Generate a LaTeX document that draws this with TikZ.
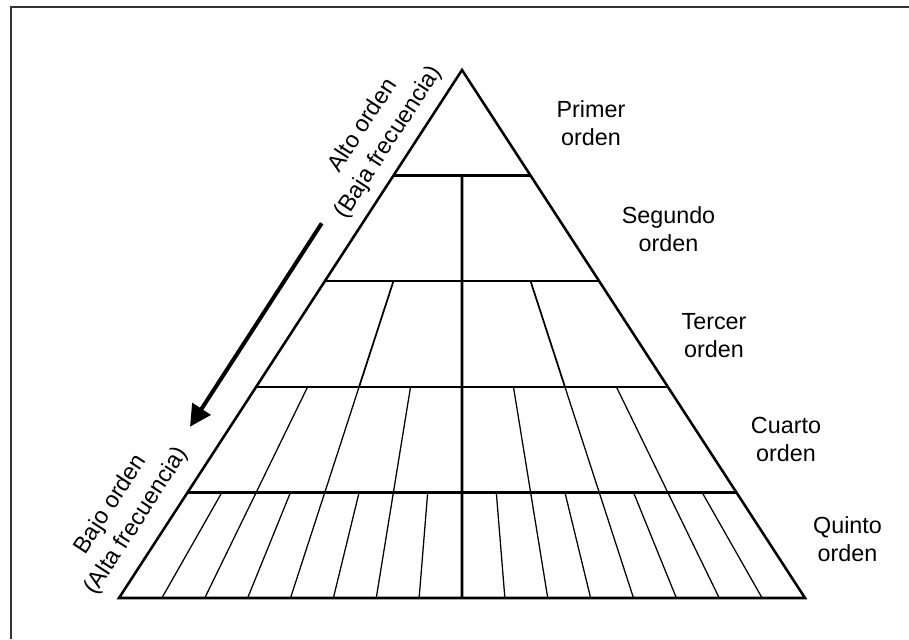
\documentclass[tikz,border=0pt]{standalone}
\usepackage{fontspec}
\setmainfont{Liberation Sans}
\usetikzlibrary{calc,arrows.meta}
\tikzset{
  outline/.style={line width=1.9pt, line join=miter, black},
  divmid/.style={line width=1.3pt, black},
  divthin/.style={line width=0.95pt, black},
  lbl/.style={align=center, inner sep=0pt, font=\fontsize{17.5}{21}\selectfont},
  rlbl/.style={align=center, inner sep=0pt, font=\fontsize{17.5}{23}\selectfont, rotate=57},
  frameline/.style={line width=1pt, black!80}
}
\begin{document}
\begin{tikzpicture}[x=0.75pt, y=-0.75pt]
\useasboundingbox (0,0) rectangle (909,639);
% frame
\coordinate (f1) at (11,639);
\coordinate (f2) at (11,7);
\coordinate (f3) at (909,7);
\draw[frameline] (f1) -- (f2) -- (f3);
% pyramid
\coordinate (A) at (462,70);
\coordinate (BL) at (119,598);
\coordinate (BR) at (805,598);
\coordinate (M) at (462,598);
\draw[outline] (A) -- (BL) -- (BR) -- cycle;
\foreach \f in {0.2,0.4,0.6,0.8}
  \draw[outline] ($(A)!\f!(BL)$) -- ($(A)!\f!(BR)$);
\draw[outline] ($(A)!0.2!(M)$) -- (M);
% third tier
\foreach \j in {1,3} {
  \coordinate (P) at ($(BL)!\j/4!(BR)$);
  \draw[divmid] ($(A)!0.4!(P)$) -- ($(A)!0.6!(P)$);
}
% fourth tier
\foreach \j in {1,2,3,5,6,7} {
  \coordinate (P) at ($(BL)!\j/8!(BR)$);
  \draw[divthin] ($(A)!0.6!(P)$) -- ($(A)!0.8!(P)$);
}
% fifth tier
\foreach \j in {1,...,7,9,10,...,15} {
  \coordinate (P) at ($(BL)!\j/16!(BR)$);
  \draw[divthin] ($(A)!0.8!(P)$) -- (P);
}
% labels right
\node[lbl] (l1) at (591,122.7) {Primer\\orden};
\node[lbl] (l2) at (668.5,229.6) {Segundo\\orden};
\node[lbl] (l3) at (714,335.6) {Tercer\\orden};
\node[lbl] (l4) at (786,439.6) {Cuarto\\orden};
\node[lbl] (l5) at (847.5,539.3) {Quinto\\orden};
% rotated labels
\node[rlbl] (hi) at (376,134) {Alto orden\\(Baja frecuencia)};
\node[rlbl] (lo) at (124,513) {Bajo orden\\(Alta frecuencia)};
% arrow
\coordinate (arS) at (321.7,223.3);
\coordinate (arE) at (190,426.7);
\draw[line width=3pt, -{Triangle[length=16pt,width=16pt]}] (arS) -- (arE);
\end{tikzpicture}
\end{document}
